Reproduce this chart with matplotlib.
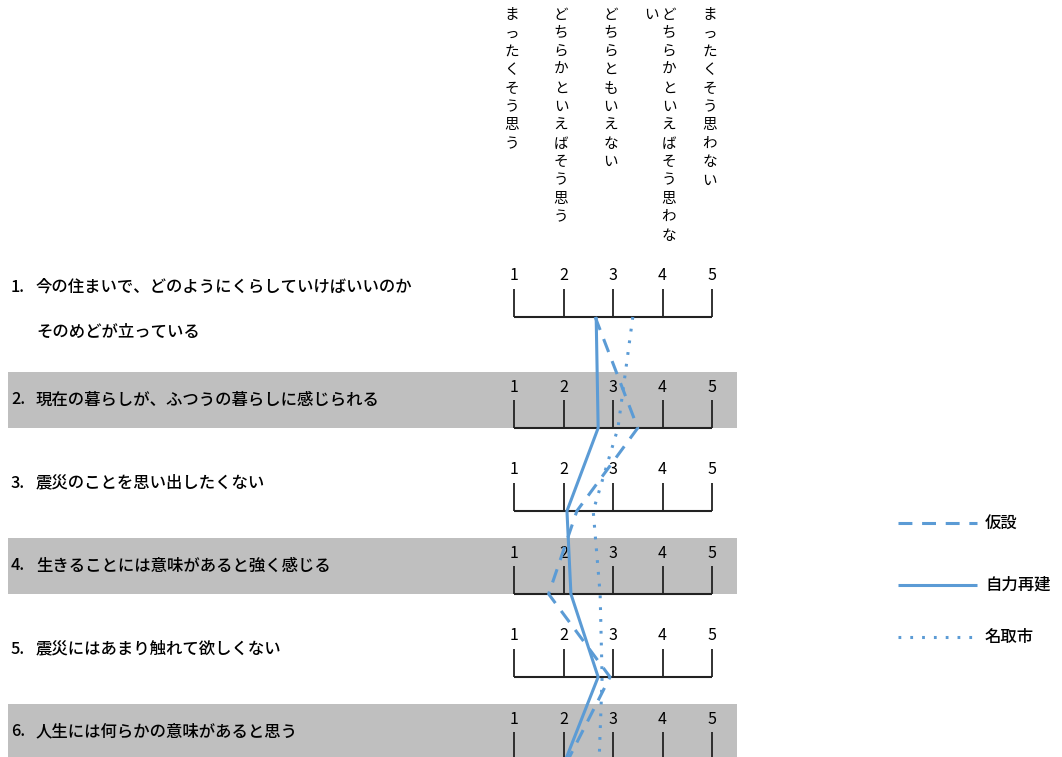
import math
import matplotlib
matplotlib.use('Agg')
import matplotlib.pyplot as plt
from matplotlib.patches import Rectangle

plt.rcParams['font.family'] = ['Noto Sans CJK JP', 'DejaVu Sans']
plt.rcParams['lines.scale_dashes'] = False

# ---------------- data ----------------
item_numbers = ['1.', '2.', '3.', '4.', '5.', '6.']
item_labels = [
    '今の住まいで、どのようにくらしていけばいいのか\nそのめどが立っている',
    '現在の暮らしが、ふつうの暮らしに感じられる',
    '震災のことを思い出したくない',
    '生きることには意味があると強く感じる',
    '震災にはあまり触れて欲しくない',
    '人生には何らかの意味があると思う',
]
scale_ticks = [1, 2, 3, 4, 5]
scale_labels = ['まったくそう思う', 'どちらかといえばそう思う', 'どちらともいえない',
                'どちらかといえばそう思わない', 'まったくそう思わない']
series_names = ['仮設', '自力再建', '名取市']
kasetsu = [2.64, 3.50, 2.27, 1.70, 2.94, 2.09]
jiriki = [2.66, 2.70, 2.07, 2.15, 2.70, 2.04]
natori = [3.40, 3.10, 2.60, 2.74, 2.78, 2.72]

# ---------------- layout ----------------
W, H = 1062, 757
BLUE = '#5B9BD5'
GRAY = '#BFBFBF'
INK = '#222222'

fig = plt.figure(figsize=(W / 100, H / 100), dpi=100)
ax = fig.add_axes([0, 0, 1, 1])
X1_PX, X5_PX = 514, 712
PPU = (X5_PX - X1_PX) / 4.0


def px(x):
    return 1 + (x - X1_PX) / PPU


ax.set_xlim(px(0), px(W))
ax.set_ylim(H, 0)
ax.axis('off')

# row baselines (pixel rows)
baselines = []
b = 317
for i in range(len(item_labels)):
    baselines.append(b)
    b += 111 if i == 0 else 83

DASH = (0, (10, 7))
DOT = (0, (2, 6.5))
styles = [dict(linestyle=DASH), dict(linestyle='-'), dict(linestyle=DOT)]

LABEL_FS = 11.8
for i, (bl, num, lab) in enumerate(zip(baselines, item_numbers, item_labels)):
    if i % 2 == 1:
        ax.add_patch(Rectangle((px(8), bl - 56), px(737) - px(8), 56,
                               facecolor=GRAY, edgecolor='none', zorder=0))
    ax.vlines(scale_ticks, bl - 28, bl, color=INK, lw=1.3, zorder=2)
    ax.hlines(bl, scale_ticks[0], scale_ticks[-1], color=INK, lw=1.5, zorder=2)
    for t in scale_ticks:
        ax.text(t, bl - 41, str(t), ha='center', va='center', fontsize=11.5,
                color='black', zorder=3)
    lines = lab.split('\n')
    y0 = bl - 30 if len(lines) > 1 else bl - 28
    ax.text(px(11), y0, num, ha='left', va='center', fontsize=LABEL_FS,
            fontweight='medium', color='black')
    for k, ln in enumerate(lines):
        ax.text(px(36), y0 + 45 * k, ln, ha='left', va='center',
                fontsize=LABEL_FS, fontweight='medium', color='black')

# series lines
for vals, st in zip([kasetsu, jiriki, natori], styles):
    ax.plot(vals, baselines, color=BLUE, lw=2.2, solid_capstyle='butt',
            dash_capstyle='butt', zorder=4, **st)

# vertical header labels
MAXC = 13
STEP = 18.4
for t, lab in zip(scale_ticks, scale_labels):
    chunks = [lab[j:j + MAXC] for j in range(0, len(lab), MAXC)]
    nc = len(chunks)
    cx = X1_PX + (t - 1) * PPU - 2.5
    for c, chunk in enumerate(chunks):
        colx = cx + (nc - 1) * 9 - c * 18
        for k, ch in enumerate(chunk):
            ax.text(px(colx), 15 + k * STEP, ch, ha='center', va='center',
                    fontsize=10.5, color='black')

# legend
leg_y = [523, 585, 637]
for name, st, ly in zip(series_names, styles, leg_y):
    ax.plot([px(898), px(977)], [ly, ly], color=BLUE, lw=2.2,
            solid_capstyle='butt', dash_capstyle='butt', **st)
    ax.text(px(985), ly, name, ha='left', va='center', fontsize=LABEL_FS,
            fontweight='medium', color='black')

fig.savefig('out.png', dpi=100)
